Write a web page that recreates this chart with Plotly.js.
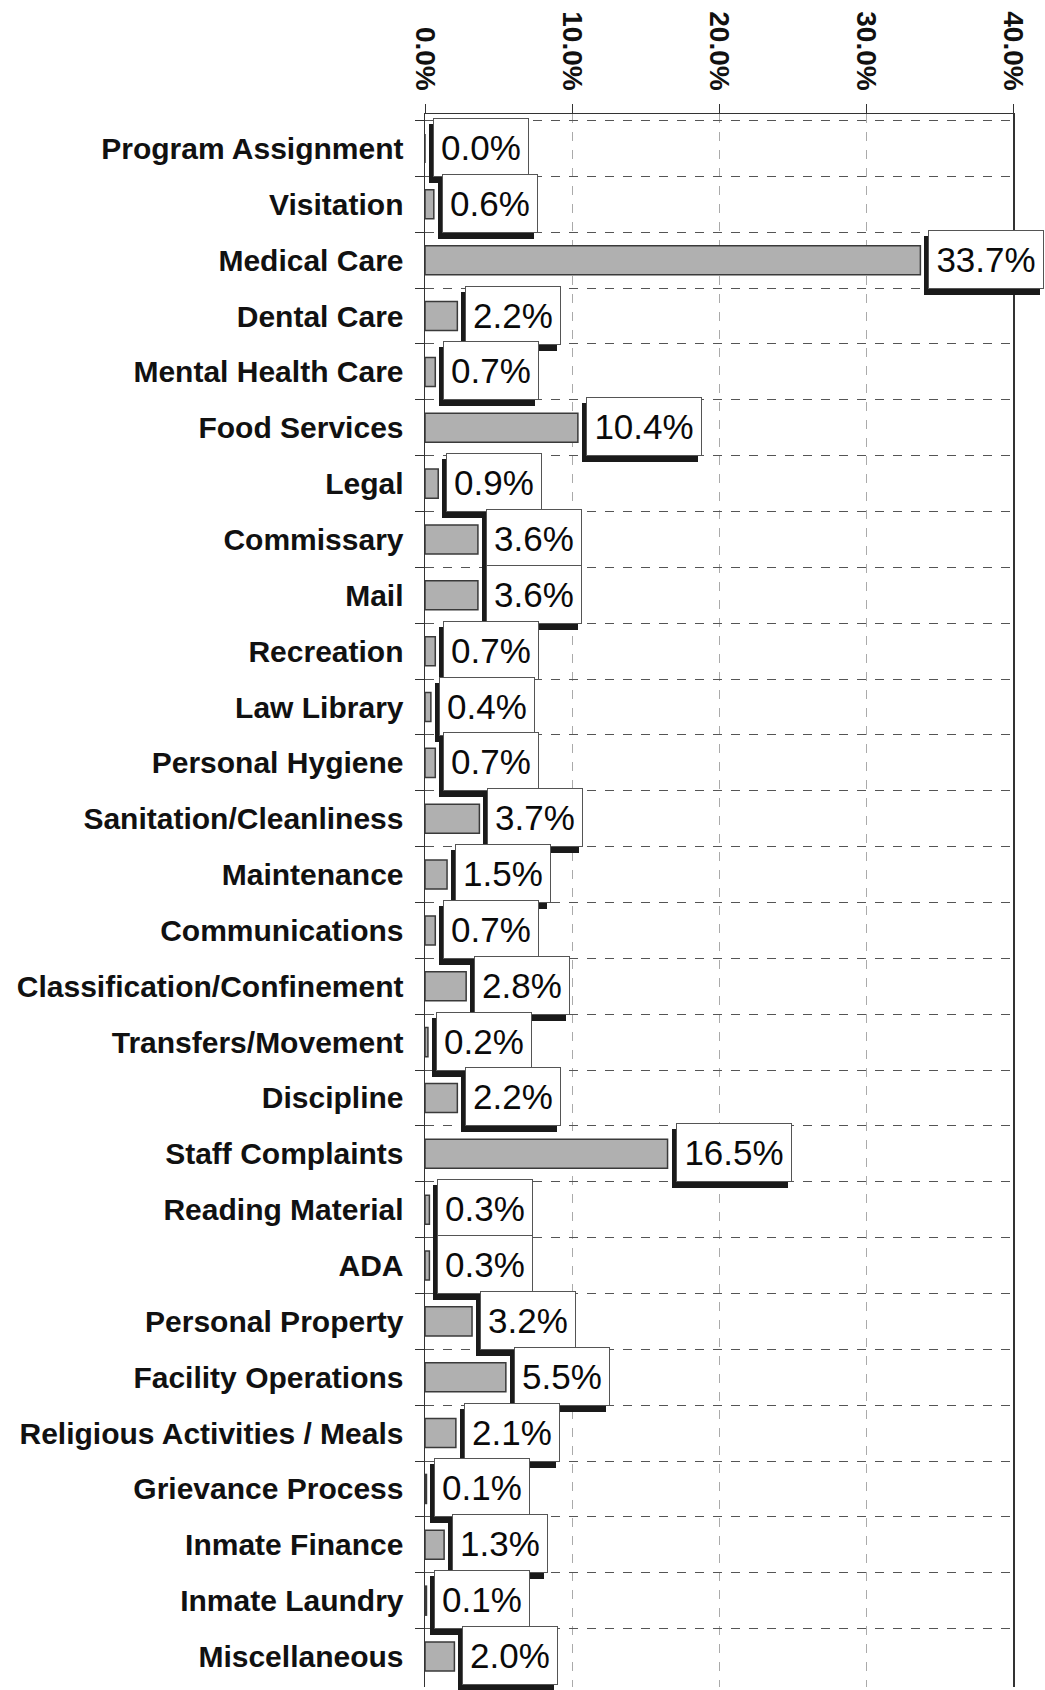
<!DOCTYPE html>
<html>
<head>
<meta charset="utf-8">
<script src="https://cdn.plot.ly/plotly-3.0.1.min.js"></script>
<style>html,body{margin:0;padding:0;background:#fff;}#chart{width:1045px;height:1690px;}</style>
</head>
<body>
<div id="chart"></div>
<script>
const categories = [
  "Program Assignment", "Visitation", "Medical Care", "Dental Care", "Mental Health Care",
  "Food Services", "Legal", "Commissary", "Mail", "Recreation", "Law Library",
  "Personal Hygiene", "Sanitation/Cleanliness", "Maintenance", "Communications",
  "Classification/Confinement", "Transfers/Movement", "Discipline", "Staff Complaints",
  "Reading Material", "ADA", "Personal Property", "Facility Operations",
  "Religious Activities / Meals", "Grievance Process", "Inmate Finance", "Inmate Laundry",
  "Miscellaneous"
];
const percentValues = [
  0.0, 0.6, 33.7, 2.2, 0.7,
  10.4, 0.9, 3.6, 3.6, 0.7, 0.4,
  0.7, 3.7, 1.5, 0.7,
  2.8, 0.2, 2.2, 16.5,
  0.3, 0.3, 3.2, 5.5,
  2.1, 0.1, 1.3, 0.1,
  2.0
];
const tickValues = [0, 10, 20, 30, 40];
const tickLabels = ["0.0%", "10.0%", "20.0%", "30.0%", "40.0%"];

const FONT = "Liberation Sans, Arial, sans-serif";
const LABEL_SIZE = 35;

const canvas = document.createElement("canvas");
const ctx = canvas.getContext("2d");
ctx.font = LABEL_SIZE + 'px "Liberation Sans", Arial, sans-serif';

const trace = {
  type: "bar",
  orientation: "h",
  y: categories,
  x: percentValues,
  width: 0.52,
  marker: { color: "#b0b0b0", line: { color: "#3a3a3a", width: 1.5 } },
  hoverinfo: "skip"
};

const annotations = [];
categories.forEach((c, i) => {
  const txt = percentValues[i].toFixed(1) + "%";
  const w = Math.ceil(ctx.measureText(txt).width) + 2;
  // drop shadow box (no text)
  annotations.push({
    x: percentValues[i], y: c, xref: "x", yref: "y",
    text: "&nbsp;", showarrow: false, xanchor: "left", yanchor: "middle",
    xshift: 4, yshift: -5, width: w, height: 45,
    font: { family: FONT, size: LABEL_SIZE, color: "#1a1a1a" },
    bgcolor: "#1a1a1a", bordercolor: "#1a1a1a", borderwidth: 1, borderpad: 6
  });
  // label box
  annotations.push({
    x: percentValues[i], y: c, xref: "x", yref: "y",
    text: txt, showarrow: false, xanchor: "left", yanchor: "middle",
    xshift: 8, yshift: 1, width: w, height: 45,
    font: { family: FONT, size: LABEL_SIZE, color: "#0a0a0a" },
    bgcolor: "#ffffff", bordercolor: "#555", borderwidth: 1, borderpad: 6
  });
});

const layout = {
  width: 1045, height: 1690,
  margin: { l: 425, r: 32, t: 114, b: 3 },
  paper_bgcolor: "#fff", plot_bgcolor: "#fff",
  showlegend: false,
  font: { family: FONT, color: "#111" },
  xaxis: {
    side: "top", range: [0, 40], tickvals: tickValues, ticktext: tickLabels,
    tickangle: 90, tickfont: { family: FONT, size: 28, color: "#111", weight: "bold" },
    ticks: "outside", ticklen: 9, tickcolor: "#333", ticklabelstandoff: 3,
    showline: true, linecolor: "#333", linewidth: 1.5, mirror: false,
    showgrid: true, gridcolor: "#aaa", griddash: "dash", gridwidth: 1,
    zeroline: false, automargin: false, fixedrange: true
  },
  yaxis: {
    type: "category", autorange: "reversed",
    tickfont: { family: FONT, size: 30, color: "#111", weight: "bold" },
    ticks: "outside", ticklen: 9, tickcolor: "#333", tickson: "boundaries",
    ticklabelstandoff: 14,
    showline: true, linecolor: "#333", linewidth: 1.5, mirror: true,
    showgrid: true, gridcolor: "#555", griddash: "dash", gridwidth: 1,
    automargin: false, fixedrange: true
  },
  annotations: annotations
};

Plotly.newPlot("chart", [trace], layout, { staticPlot: true, displayModeBar: false });
</script>
</body>
</html>
